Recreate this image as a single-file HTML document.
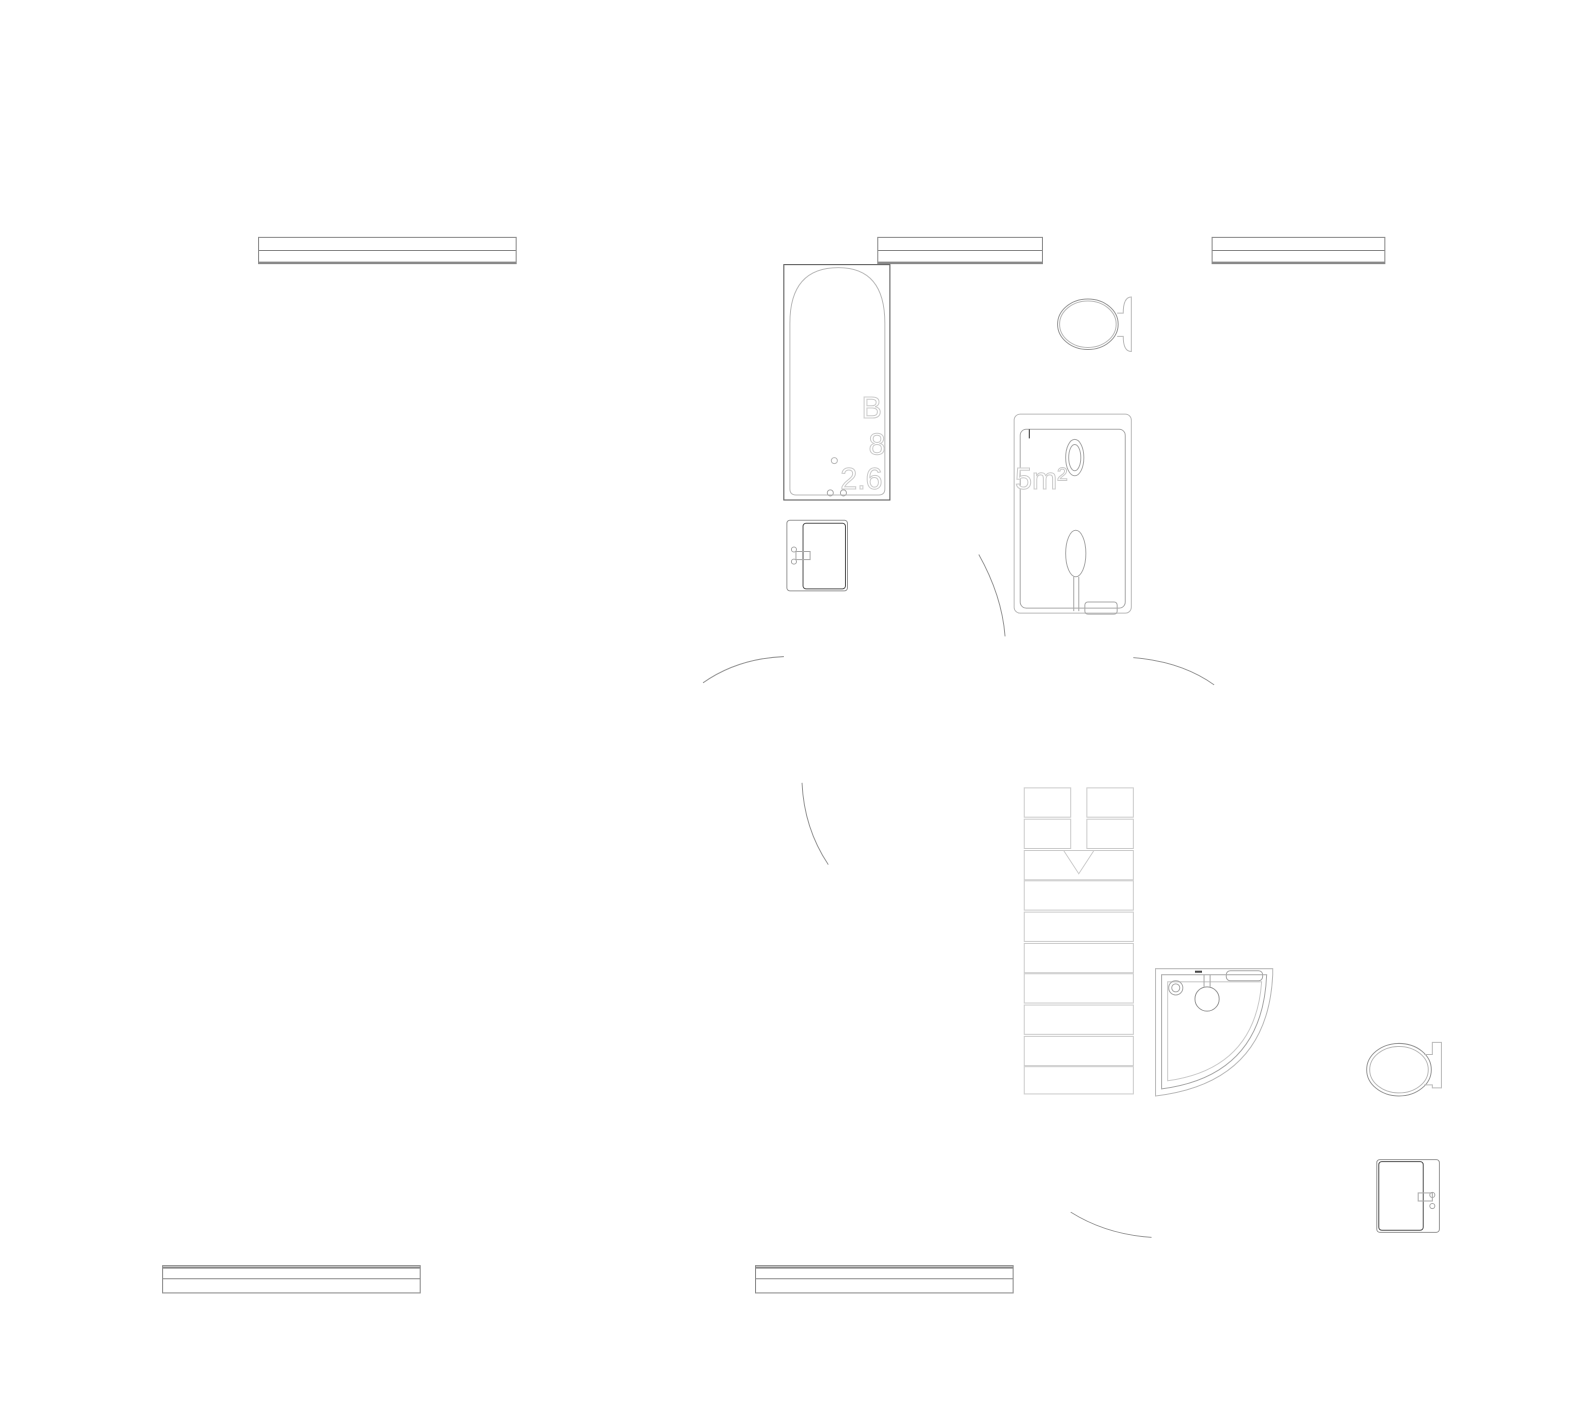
<!DOCTYPE html>
<html><head><meta charset="utf-8"><style>
html,body{margin:0;padding:0;background:#fff;width:1584px;height:1426px;overflow:hidden}
svg{display:block}
</style></head><body>
<svg width="1584" height="1426" viewBox="0 0 1584 1426" xmlns="http://www.w3.org/2000/svg" fill="none" stroke="#aaa" stroke-width="1">
<g transform="scale(1.0101)">
<!-- windows -->
<g stroke="#888">
<rect x="256" y="235" width="255" height="26"/><line x1="256" y1="248" x2="511" y2="248"/><line x1="256" y1="260" x2="511" y2="260" stroke-width="2"/>
<rect x="869" y="235" width="163" height="26"/><line x1="869" y1="248" x2="1032" y2="248"/><line x1="869" y1="260" x2="1032" y2="260" stroke-width="2"/>
<rect x="1200" y="235" width="171" height="26"/><line x1="1200" y1="248" x2="1371" y2="248"/><line x1="1200" y1="260" x2="1371" y2="260" stroke-width="2"/>
<rect x="161" y="1253" width="255" height="27"/><line x1="161" y1="1266" x2="416" y2="1266"/><line x1="161" y1="1255" x2="416" y2="1255" stroke-width="2"/>
<rect x="748" y="1253" width="255" height="27"/><line x1="748" y1="1266" x2="1003" y2="1266"/><line x1="748" y1="1255" x2="1003" y2="1255" stroke-width="2"/>
</g>
<!-- bathtub -->
<rect x="776" y="262" width="105" height="233" stroke="#555"/>
<path d="M788 490 Q782 490 782 484 L782 320 Q782 265 830 265 Q876 265 876 320 L876 484 Q876 490 870 490 Z" stroke="#bbb"/>
<circle cx="826" cy="456" r="3" stroke="#bbb"/><circle cx="822" cy="488" r="3"/><circle cx="835" cy="488" r="3"/>
<!-- sink 1 -->
<rect x="779" y="515" width="60" height="70" rx="3" stroke="#999"/>
<rect x="795" y="518" width="42" height="65" rx="3" stroke="#555"/>
<rect x="788" y="546" width="14" height="8"/><circle cx="786" cy="544" r="2.5"/><circle cx="786" cy="556" r="2.5"/>
<!-- toilet 1 -->
<ellipse cx="1077" cy="321" rx="30" ry="25" stroke="#999"/><ellipse cx="1077" cy="321" rx="28" ry="23" stroke="#bbb"/>
<path d="M1106 310 L1112 310 Q1112 294 1120 294 L1120 348 Q1112 348 1112 333 L1106 333" stroke="#bbb"/>
<!-- shower 1 -->
<rect x="1004" y="410" width="116" height="197" rx="6" stroke="#bbb"/>
<rect x="1010" y="425" width="104" height="177" rx="6" stroke="#aaa"/>
<ellipse cx="1064" cy="453" rx="9" ry="18" stroke="#aaa"/><ellipse cx="1064" cy="453" rx="6" ry="13"/>
<ellipse cx="1065" cy="548" rx="10" ry="23"/>
<line x1="1063" y1="571" x2="1063" y2="605"/><line x1="1068" y1="571" x2="1068" y2="605"/>
<rect x="1074" y="596" width="32" height="12" rx="3"/>
<line x1="1019" y1="425" x2="1019" y2="434" stroke="#333"/>
<!-- text (white with light outline) -->
<g font-family="Liberation Sans, sans-serif" font-size="30" fill="#fff" stroke="#ccc" stroke-width="1">
<text x="853" y="414">B</text><text x="860" y="450">8</text><text x="832" y="484">2.6</text><text x="1005" y="484">5m²</text>
</g>
<!-- door arcs -->
<g stroke="#999">
<path d="M969 549 Q992 590 995 630"/>
<path d="M696 676 Q730 652 776 650"/>
<path d="M1122 651 Q1170 655 1202 678"/>
<path d="M794 775 Q796 820 820 856"/>
<path d="M1060 1200 Q1095 1222 1140 1225"/>
</g>
<!-- stairs -->
<g stroke="#ccc">
<rect x="1014" y="780" width="46" height="29"/><rect x="1076" y="780" width="46" height="29"/>
<rect x="1014" y="811" width="46" height="29"/><rect x="1076" y="811" width="46" height="29"/>
<rect x="1014" y="842" width="108" height="29"/>
<rect x="1014" y="872" width="108" height="29"/><rect x="1014" y="903" width="108" height="29"/>
<rect x="1014" y="934" width="108" height="29"/><rect x="1014" y="964" width="108" height="29"/>
<rect x="1014" y="995" width="108" height="29"/><rect x="1014" y="1026" width="108" height="29"/>
<rect x="1014" y="1056" width="108" height="27"/>
<path d="M1053 842 L1068 865 L1083 842"/>
</g>
<!-- corner shower -->
<path d="M1144 959 L1260 959 L1260 965 Q1255 1072 1144 1085 Z" stroke="#bbb"/>
<path d="M1150 965 L1254 965 Q1250 1065 1150 1078 Z" stroke="#aaa"/>
<path d="M1156 972 L1249 972 Q1243 1058 1156 1070 Z" stroke="#ccc"/>
<circle cx="1164" cy="978" r="7"/><circle cx="1164" cy="978" r="4"/>
<circle cx="1195" cy="989" r="12" stroke="#999"/>
<line x1="1192" y1="965" x2="1192" y2="977"/><line x1="1198" y1="965" x2="1198" y2="977"/>
<rect x="1214" y="961" width="36" height="10" rx="4"/>
<line x1="1183" y1="962" x2="1190" y2="962" stroke="#444" stroke-width="2"/>
<!-- toilet 2 -->
<ellipse cx="1385" cy="1059" rx="32" ry="26" stroke="#999"/><ellipse cx="1385" cy="1059" rx="29" ry="23" stroke="#bbb"/>
<path d="M1410 1044 L1418 1044 L1418 1032 L1427 1032 L1427 1077 L1418 1077 L1418 1074 L1410 1074" stroke="#bbb"/>
<!-- sink 2 -->
<rect x="1363" y="1148" width="62" height="72" rx="3" stroke="#999"/>
<rect x="1365" y="1150" width="44" height="68" rx="3" stroke="#555"/>
<rect x="1404" y="1181" width="14" height="8"/><circle cx="1418" cy="1183" r="2.5"/><circle cx="1418" cy="1194" r="2.5"/>
</g>
</svg>
</body></html>
